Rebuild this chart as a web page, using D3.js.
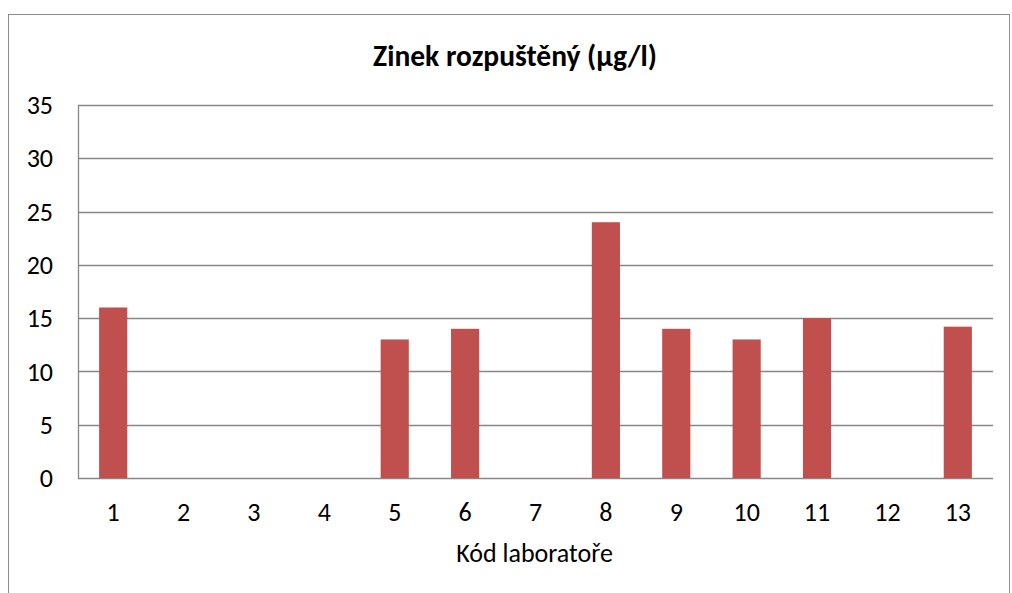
<!DOCTYPE html>
<html>
<head>
<meta charset="utf-8">
<script src="https://cdn.jsdelivr.net/npm/d3@7"></script>
<style>
  body { margin: 0; background: #fff; }
  svg text { font-family: Carlito, Calibri, "Liberation Sans", sans-serif; fill: #000; }
</style>
</head>
<body>
<div id="chart"></div>
<script>
// lab codes and dissolved zinc values (µg/l); null = no result
const labs = ['1', '2', '3', '4', '5', '6', '7', '8', '9', '10', '11', '12', '13'];
const zinc = [16, null, null, null, 13, 14, null, 24, 14, 13, 15, null, 14.2];
const yTicks = [0, 5, 10, 15, 20, 25, 30, 35];

const W = 1012, H = 593;
const margin = { top: 105, right: 19, bottom: 115, left: 78 };
const width = W - margin.left - margin.right;
const height = H - margin.top - margin.bottom;

const svg = d3.select('#chart').append('svg')
    .attr('width', W)
    .attr('height', H);

// chart frame
svg.append('rect')
    .attr('x', 8.5).attr('y', 14.5)
    .attr('width', 1001).attr('height', 620)
    .attr('fill', 'none')
    .attr('stroke', '#8c8c8c')
    .attr('stroke-width', 1);

const g = svg.append('g')
    .attr('transform', `translate(${margin.left},${margin.top})`);

const x = d3.scaleBand()
    .domain(labs)
    .range([0, width]);

const y = d3.scaleLinear()
    .domain([0, 35])
    .range([height, 0]);

// gridlines
g.append('g')
    .selectAll('line')
    .data(yTicks)
    .enter()
    .append('line')
    .attr('x1', 0)
    .attr('x2', width)
    .attr('y1', d => Math.round(y(d)) + 0.5)
    .attr('y2', d => Math.round(y(d)) + 0.5)
    .attr('stroke', '#868686')
    .attr('stroke-width', 1.3);

// y axis
const yAxis = g.append('g')
    .call(d3.axisLeft(y).tickValues(yTicks).tickSize(0).tickPadding(25));
yAxis.attr('font-size', null).attr('font-family', null);
yAxis.select('.domain').attr('stroke', '#868686').attr('stroke-width', 1.3);
yAxis.selectAll('text').style('font-size', '26px').attr('dy', '0.33em');

// bars
const barW = x.bandwidth() * 0.4;
g.append('g')
    .selectAll('rect')
    .data(labs.map((l, i) => ({ lab: l, value: zinc[i] })).filter(d => d.value != null))
    .enter()
    .append('rect')
    .attr('x', d => x(d.lab) + (x.bandwidth() - barW) / 2)
    .attr('y', d => y(d.value))
    .attr('width', barW)
    .attr('height', d => height - y(d.value))
    .attr('fill', '#C0504D');

// x axis
const xAxis = g.append('g')
    .attr('transform', `translate(0,${height})`)
    .call(d3.axisBottom(x).tickSize(0).tickPadding(25));
xAxis.attr('font-size', null).attr('font-family', null);
xAxis.select('.domain').remove();
xAxis.selectAll('text').style('font-size', '26px');

// title
svg.append('text')
    .attr('x', 515)
    .attr('y', 66)
    .attr('text-anchor', 'middle')
    .style('font-size', '29.5px')
    .style('font-weight', 'bold')
    .text('Zinek rozpuštěný (µg/l)');

// axis title
svg.append('text')
    .attr('x', margin.left + width / 2 - 1)
    .attr('y', 562)
    .attr('text-anchor', 'middle')
    .style('font-size', '26px')
    .text('Kód laboratoře');
</script>
</body>
</html>
